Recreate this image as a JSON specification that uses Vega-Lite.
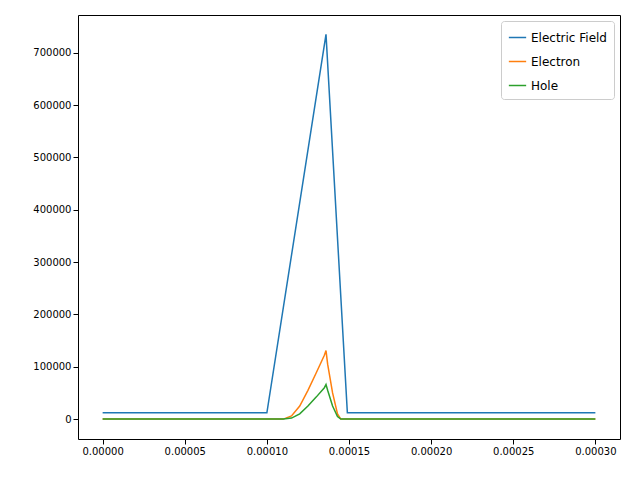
{
  "$schema": "https://vega.github.io/schema/vega-lite/v6.json",
  "width": 640,
  "height": 480,
  "autosize": {"type": "fit", "contains": "padding"},
  "padding": {"left": 32, "top": 15, "right": 20, "bottom": 24},
  "config": {"view": {"stroke": "black"}, "font": "DejaVu Sans", "axis": {"grid": false, "domain": false, "labelFontSize": 10, "tickColor": "black", "labelColor": "black"}},
  "data": {
    "values": [
      {"x": 0, "y": 12000, "s": "Electric Field"},
      {"x": 0.0001, "y": 12000, "s": "Electric Field"},
      {"x": 0.000136, "y": 735000, "s": "Electric Field"},
      {"x": 0.000149, "y": 12000, "s": "Electric Field"},
      {"x": 0.0003, "y": 12000, "s": "Electric Field"},
      {"x": 0, "y": 0, "s": "Electron"},
      {"x": 0.00011, "y": 0, "s": "Electron"},
      {"x": 0.000115, "y": 6000, "s": "Electron"},
      {"x": 0.00012, "y": 25000, "s": "Electron"},
      {"x": 0.000125, "y": 55000, "s": "Electron"},
      {"x": 0.00013, "y": 88000, "s": "Electron"},
      {"x": 0.000135, "y": 122000, "s": "Electron"},
      {"x": 0.000136, "y": 131000, "s": "Electron"},
      {"x": 0.000137, "y": 105000, "s": "Electron"},
      {"x": 0.00014, "y": 50000, "s": "Electron"},
      {"x": 0.000143, "y": 10000, "s": "Electron"},
      {"x": 0.000145, "y": 0, "s": "Electron"},
      {"x": 0.0003, "y": 0, "s": "Electron"},
      {"x": 0, "y": 0, "s": "Hole"},
      {"x": 0.00011, "y": 0, "s": "Hole"},
      {"x": 0.000115, "y": 2000, "s": "Hole"},
      {"x": 0.00012, "y": 10000, "s": "Hole"},
      {"x": 0.000125, "y": 25000, "s": "Hole"},
      {"x": 0.00013, "y": 42000, "s": "Hole"},
      {"x": 0.000135, "y": 60000, "s": "Hole"},
      {"x": 0.000136, "y": 66000, "s": "Hole"},
      {"x": 0.000137, "y": 55000, "s": "Hole"},
      {"x": 0.00014, "y": 25000, "s": "Hole"},
      {"x": 0.000143, "y": 5000, "s": "Hole"},
      {"x": 0.000145, "y": 0, "s": "Hole"},
      {"x": 0.0003, "y": 0, "s": "Hole"}
    ]
  },
  "mark": {"type": "line", "strokeWidth": 1.5},
  "encoding": {
    "x": {"field": "x", "type": "quantitative", "title": null,
      "scale": {"domain": [-0.000015, 0.000315], "nice": false, "zero": false},
      "axis": {"values": [0, 0.00005, 0.0001, 0.00015, 0.0002, 0.00025, 0.0003], "format": ".5f"}},
    "y": {"field": "y", "type": "quantitative", "title": null,
      "scale": {"domain": [-38000, 772000], "nice": false},
      "axis": {"values": [0, 100000, 200000, 300000, 400000, 500000, 600000, 700000], "format": "d"}},
    "color": {"field": "s", "type": "nominal",
      "scale": {"domain": ["Electric Field", "Electron", "Hole"], "range": ["#1f77b4", "#ff7f0e", "#2ca02c"]},
      "legend": {"title": null, "orient": "top-right", "offset": 6, "symbolType": "stroke", "labelFontSize": 12, "rowPadding": 8, "symbolSize": 300, "strokeColor": "#cccccc", "fillColor": "white", "padding": 7, "cornerRadius": 3, "symbolStrokeWidth": 1.5}}
  }
}
